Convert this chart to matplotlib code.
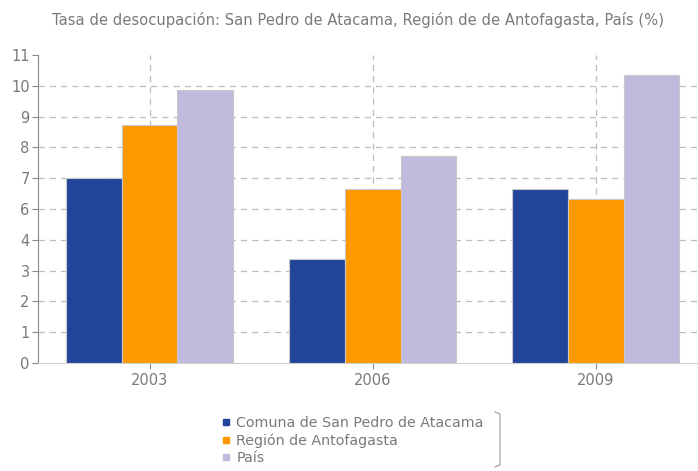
import numpy as np
import matplotlib
matplotlib.use("Agg")
import matplotlib.pyplot as plt
from matplotlib.lines import Line2D

years = ["2003", "2006", "2009"]
series_names = ["Comuna de San Pedro de Atacama", "Región de Antofagasta", "País"]
comuna = [6.6, 3.7, 6.2]
region = [8.5, 6.2, 5.85]
pais = [9.75, 7.4, 10.3]
colors = ["#22459a", "#ff9900", "#c0bbdc"]

tick_values = [i * 1.1 for i in range(11)]
tick_labels = [str(round(v)) for v in tick_values]

fig = plt.figure(figsize=(6.98, 4.71), dpi=100)
ax = fig.add_axes([38 / 698, 108 / 471, 659 / 698, 308 / 471])

x = np.arange(len(years))
w = 0.251
for i, (vals, col) in enumerate(zip([comuna, region, pais], colors)):
    ax.bar(x + (i - 1) * w, vals, width=w, color=col, edgecolor="#c8c8c8",
           linewidth=0.8, label=series_names[i], zorder=3)

ax.set_xlim(-0.5, 2.455)
ax.set_ylim(0, 11)
ax.set_yticks(tick_values)
ax.set_yticklabels(tick_labels)
ax.set_xticks(x)
ax.set_xticklabels(years)

ax.grid(True, axis="both", color="#bdbdbd", linestyle=(0, (5, 4)), linewidth=0.9, zorder=0)
ax.yaxis.get_gridlines()[0].set_visible(False)
ax.yaxis.get_gridlines()[-1].set_visible(False)

for s in ["top", "right"]:
    ax.spines[s].set_visible(False)
ax.spines["left"].set_color("#8a8a8a")
ax.spines["bottom"].set_color("#d0d0d0")
ax.tick_params(axis="y", colors="#8a8a8a", labelcolor="#7a7a7a", labelsize=10.5, length=4, pad=2)
ax.tick_params(axis="x", colors="#8a8a8a", labelcolor="#7a7a7a", labelsize=10.5, length=4, pad=3)

fig.text(0.513, 0.957, "Tasa de desocupación: San Pedro de Atacama, Región de de Antofagasta, País (%)",
         ha="center", va="center", fontsize=10.6, color="#7a7a7a")

handles = [Line2D([], [], marker="s", linestyle="none", markersize=4,
                  markerfacecolor=c, markeredgecolor=c) for c in colors]
leg = fig.legend(handles, series_names, loc="upper left", bbox_to_anchor=(222 / 698, 1 - 416 / 471),
                 frameon=False, fontsize=10.3, handlelength=0.6, handletextpad=0.4,
                 labelspacing=0.22, borderaxespad=0, borderpad=0)
for t in leg.get_texts():
    t.set_color("#7a7a7a")

fig.add_artist(Line2D([495 / 698, 500 / 698, 500 / 698, 495 / 698],
                      [1 - 412 / 471, 1 - 414 / 471, 1 - 465 / 471, 1 - 467 / 471],
                      color="#999999", linewidth=0.8))

fig.savefig("out.png", dpi=100)
